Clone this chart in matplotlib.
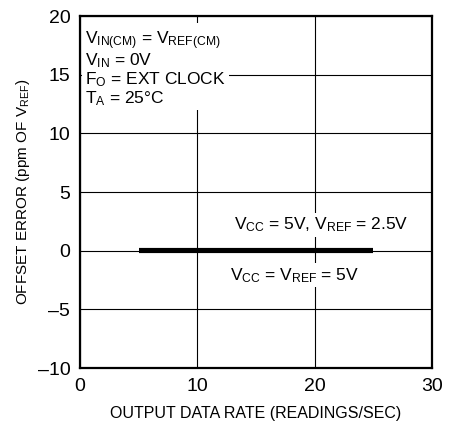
import matplotlib
matplotlib.use("Agg")
import matplotlib.pyplot as plt
from matplotlib import font_manager

# Data
rate_a = [5, 10, 15, 20, 25]          # readings/sec
err_a = [0.05, 0.05, 0.05, 0.05, 0.05]  # VCC = 5V, VREF = 2.5V
rate_b = [5, 10, 15, 20, 25]
err_b = [-0.05, -0.05, -0.05, -0.05, -0.05]  # VCC = VREF = 5V

x_ticks = [0, 10, 20, 30]
y_ticks = [-10, -5, 0, 5, 10, 15, 20]
y_tick_labels = ["\u201310", "\u20135", "0", "5", "10", "15", "20"]

names = {f.name for f in font_manager.fontManager.ttflist}
font = "Liberation Sans Narrow" if "Liberation Sans Narrow" in names else "Liberation Sans"
plt.rcParams["font.family"] = [font, "DejaVu Sans"]
plt.rcParams["mathtext.fontset"] = "custom"
plt.rcParams["mathtext.rm"] = font
plt.rcParams["mathtext.it"] = font
plt.rcParams["mathtext.default"] = "rm"

fig = plt.figure(figsize=(4.6, 4.24), dpi=100)
ax = fig.add_axes([0.1739, 0.132, 0.765, 0.830])

ax.plot(rate_a, err_a, color="black", linewidth=3, solid_capstyle="butt", zorder=4)
ax.plot(rate_b, err_b, color="black", linewidth=3, solid_capstyle="butt", zorder=4)

ax.set_xlim(0, 30)
ax.set_ylim(-10, 20)
ax.set_xticks(x_ticks)
ax.set_yticks(y_ticks)
ax.set_yticklabels(y_tick_labels)
ax.tick_params(axis="both", length=0, labelsize=14, pad=7)
ax.grid(True, color="black", linewidth=0.8)
ax.set_axisbelow(True)
for s in ax.spines.values():
    s.set_linewidth(1.6)

ax.set_xlabel("OUTPUT DATA RATE (READINGS/SEC)", fontsize=11.5, labelpad=8)
ax.set_ylabel(r"OFFSET ERROR (ppm OF V$_{REF}$)", fontsize=11, labelpad=4)

box = dict(facecolor="white", edgecolor="none", pad=2)
ax.text(0.45, 18.9,
        "V$_{IN(CM)}$ = V$_{REF(CM)}$\nV$_{IN}$ = 0V\nF$_{O}$ = EXT CLOCK\nT$_{A}$ = 25\u00b0C",
        fontsize=12.5, va="top", ha="left", linespacing=1.0, bbox=box, zorder=3)
ax.text(20.6, 2.2, "V$_{CC}$ = 5V, V$_{REF}$ = 2.5V", fontsize=12.5,
        ha="center", va="center", bbox=box, zorder=3)
ax.text(18.3, -2.1, "V$_{CC}$ = V$_{REF}$ = 5V", fontsize=12.5,
        ha="center", va="center", bbox=box, zorder=3)

fig.savefig("out.png", dpi=100)
